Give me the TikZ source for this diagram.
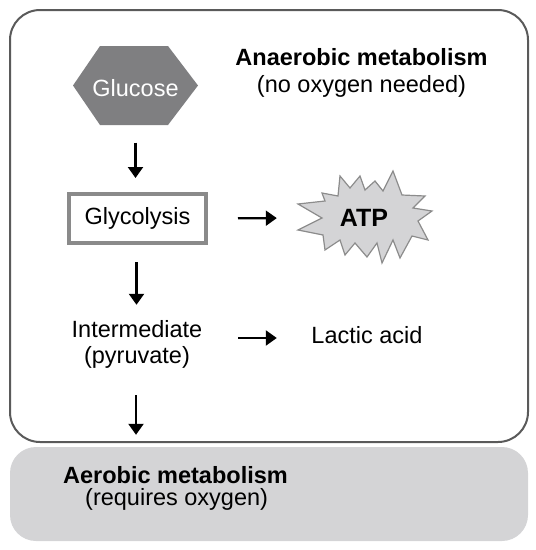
\documentclass[tikz,border=0pt]{standalone}
\usepackage{fontspec}
\setmainfont{Liberation Sans}
\usetikzlibrary{arrows.meta}
\definecolor{frame}{HTML}{5A5A5A}
\definecolor{hexfill}{HTML}{7F7F81}
\definecolor{boxline}{HTML}{8A8A8A}
\definecolor{lightfill}{HTML}{D4D4D6}
\definecolor{starline}{HTML}{8C8C8C}
\tikzset{
  txt/.style={font=\fontsize{23.5}{26}\selectfont, inner sep=0pt, align=center},
  btxt/.style={txt, font=\fontsize{23.5}{26}\selectfont\bfseries},
  arr/.style={line width=2.2pt, -{Triangle[width=15pt,length=11pt]}},
}
\begin{document}
\begin{tikzpicture}[x=1pt,y=-1pt]
\useasboundingbox (0,0) rectangle (536,550);
% aerobic box
\node[fill=lightfill, rounded corners=26pt, minimum width=518pt, minimum height=94pt, inner sep=0pt] (aerobic) at (269,494) {};
% outer frame
\draw[frame, line width=2pt, rounded corners=30pt] (10,10) rectangle (528,442);
% titles
\node[btxt] (antitle) at (361.5,57) {Anaerobic metabolism};
\node[txt] (ansub) at (361.5,86) {(no oxygen needed)};
% glucose hexagon
\fill[hexfill] (73,85.5) -- (100,46) -- (168,46) -- (198,85.5) -- (168,125) -- (100,125) -- cycle;
\node[txt, text=white, minimum width=125pt, minimum height=79pt] (glucose) at (135.5,88) {Glucose};
% glycolysis
\node[txt, draw=boxline, line width=4pt, minimum width=137pt, minimum height=49pt] (glyco) at (137.5,218.5) {Glycolysis};
% ATP starburst
\filldraw[fill=lightfill, draw=starline, line width=1.2pt, line join=miter]
  (298,204) -- (325,201) -- (322,193) -- (338,196) -- (340,176) -- (350,188) -- (360,176) -- (365,190) -- (375,181) -- (383,191) -- (393,171) -- (402,195) -- (425,196) -- (413,208) -- (432,211) -- (418,221) -- (428,240) -- (412,236) -- (400,258) -- (393,240) -- (382,263) -- (377,243) -- (367,257) -- (355,243) -- (345,255) -- (340,240) -- (325,250) -- (323,235) -- (298,230) -- (322,218) -- cycle;
\node[btxt, font=\fontsize{25}{28}\selectfont\bfseries, minimum width=138pt, minimum height=90pt] (atp) at (364,218) {ATP};
% intermediate
\node[txt, minimum width=140pt, minimum height=52pt] (inter) at (137,344) {Intermediate\\(pyruvate)};
\node[txt, minimum width=136pt] (lactic) at (367,335) {Lactic acid};
% aerobic texts
\node[btxt, anchor=west] (aetitle) at (63,475) {Aerobic metabolism};
\node[txt, anchor=west] (aesub) at (85,499) {(requires oxygen)};
% arrows
\draw[arr, shorten <=15pt, shorten >=14pt] (glucose.south) -- (glucose.south |- glyco.north);
\draw[arr, shorten <=30pt, shorten >=18pt] (glyco.east) -- (atp.west);
\draw[arr, shorten <=17pt, shorten >=13pt] ([xshift=-1pt]glyco.south) -- ([xshift=-1pt]glyco.south |- inter.north);
\draw[arr, shorten <=31pt, shorten >=22pt] ([yshift=6pt]inter.east) -- ([yshift=6pt]inter.east -| lactic.west);
\draw[arr, shorten <=25pt, shorten >=12pt] ([xshift=-1pt]inter.south) -- ([xshift=-1pt]inter.south |- aerobic.north);
\end{tikzpicture}
\end{document}
